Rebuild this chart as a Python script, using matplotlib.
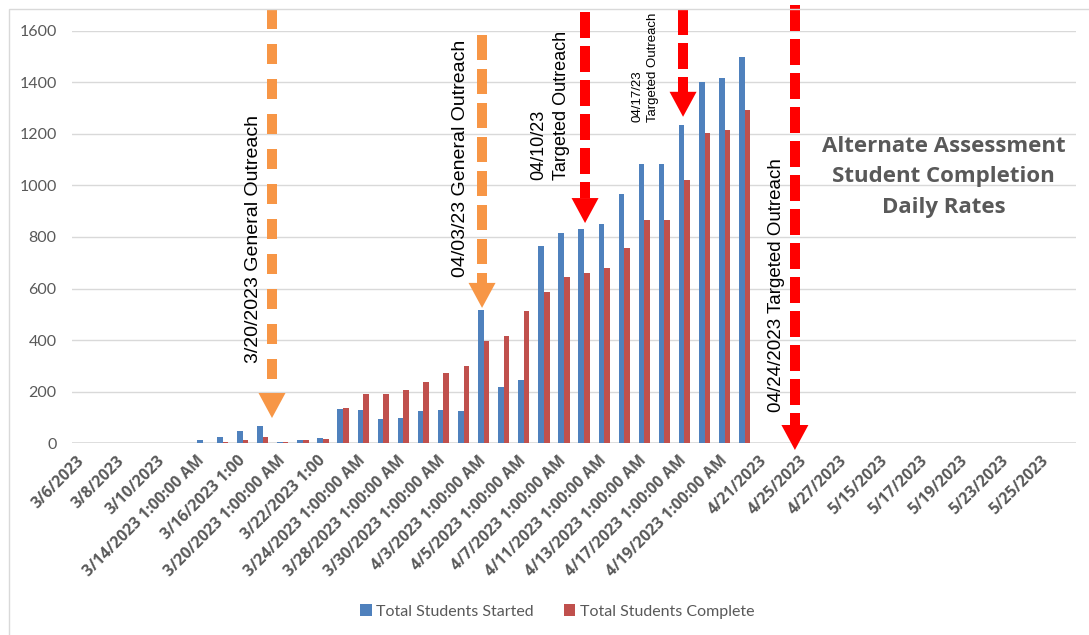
import numpy as np
import matplotlib
matplotlib.use('Agg')
import matplotlib.pyplot as plt
from matplotlib.patches import Polygon, Rectangle

# ---- data ----
categories = [
    '3/6/2023', '3/7/2023', '3/8/2023', '3/9/2023', '3/10/2023',
    '3/13/2023 1:00:00 AM', '3/14/2023 1:00:00 AM', '3/15/2023 1:00:00 AM',
    '3/16/2023 1:00', '3/17/2023 1:00', '3/20/2023 1:00:00 AM',
    '3/21/2023 1:00:00 AM', '3/22/2023 1:00', '3/23/2023 1:00',
    '3/24/2023 1:00:00 AM', '3/27/2023 1:00:00 AM', '3/28/2023 1:00:00 AM',
    '3/29/2023 1:00:00 AM', '3/30/2023 1:00:00 AM', '3/31/2023 1:00:00 AM',
    '4/3/2023 1:00:00 AM', '4/4/2023 1:00:00 AM', '4/5/2023 1:00:00 AM',
    '4/6/2023 1:00:00 AM', '4/7/2023 1:00:00 AM', '4/10/2023 1:00:00 AM',
    '4/11/2023 1:00:00 AM', '4/12/2023 1:00:00 AM', '4/13/2023 1:00:00 AM',
    '4/14/2023 1:00:00 AM', '4/17/2023 1:00:00 AM', '4/18/2023 1:00:00 AM',
    '4/19/2023 1:00:00 AM', '4/20/2023 1:00:00 AM', '4/21/2023',
    '4/24/2023', '4/25/2023', '4/26/2023', '4/27/2023', '4/28/2023',
    '5/15/2023', '5/16/2023', '5/17/2023', '5/18/2023', '5/19/2023',
    '5/22/2023', '5/23/2023', '5/24/2023', '5/25/2023', '5/26/2023',
]

started = [0, 0, 0, 0, 0, 0,
           13, 25, 46, 67, 5, 13, 20, 134, 128, 94, 98, 124, 128, 124,
           516, 219, 245, 765, 815, 830, 852, 967, 1084, 1084, 1233, 1402,
           1415, 1497,
           0, 0, 0, 0, 0, 0, 0, 0, 0, 0, 0, 0, 0, 0, 0, 0]

complete = [0, 0, 0, 0, 0, 0,
            0, 5, 13, 25, 5, 13, 17, 138, 192, 192, 206, 237, 274, 299,
            396, 415, 512, 587, 645, 662, 680, 756, 865, 865, 1022, 1204,
            1216, 1294,
            0, 0, 0, 0, 0, 0, 0, 0, 0, 0, 0, 0, 0, 0, 0, 0]

outreach_dates = ['3/20/2023', '04/03/23', '04/10/23', '04/17/23', '04/24/2023']

BLUE = '#4F81BD'
RED = '#C0504D'
ORANGE = '#F79646'
ARROW_RED = '#FF0000'
GREY = '#595959'
GRID = '#D9D9D9'

fig = plt.figure(figsize=(10.89, 6.35), dpi=100)
ax = fig.add_axes([0.0661, 0.3019, 0.922, 0.6498])

x = np.arange(len(categories))
w = 0.28
ax.bar(x - w / 2, started, w, color=BLUE, label='Total Students Started', zorder=2)
ax.bar(x + w / 2, complete, w, color=RED, label='Total Students Complete', zorder=2)

ax.set_xlim(-0.5, len(categories) - 0.5)
ax.set_ylim(0, 1600)
ax.set_yticks(range(0, 1601, 200))
ax.yaxis.grid(True, color=GRID, linewidth=1.0, zorder=0)
ax.set_axisbelow(True)
for s in ax.spines.values():
    s.set_visible(False)
ax.axhline(0, color=GRID, linewidth=1.2, zorder=1)

# every second category gets a label, like the Excel axis
ax.set_xticks(x[::2])
ax.set_xticklabels(categories[::2], rotation=45, ha='right', va='center',
                   rotation_mode='anchor', fontsize=11.3, fontweight='bold',
                   color=GREY, family='Open Sans')
ax.tick_params(axis='x', length=0, pad=11)
ax.tick_params(axis='y', length=0, pad=11, labelsize=11.5, labelcolor=GREY)
for lab in ax.get_yticklabels():
    lab.set_family('Lato')


def shift(xd, yd, dx, dy):
    d = ax.transData.transform((xd, yd))
    return ax.transData.inverted().transform((d[0] + dx, d[1] + dy))


def dashed_arrow(xc, y_tip, y_top, color, dashes, shaft=10, head_w=27, head_l=25):
    base = shift(xc, y_tip, 0, head_l)
    ax.plot([xc, xc], [y_top, base[1]], color=color, lw=shaft * 0.72,
            linestyle=(0, dashes), dash_capstyle='butt', clip_on=False, zorder=5)
    left = shift(xc, y_tip, -head_w / 2, head_l)
    right = shift(xc, y_tip, head_w / 2, head_l)
    ax.add_patch(Polygon([left, right, (xc, y_tip)], closed=True, color=color,
                         clip_on=False, zorder=5, lw=0))


dashed_arrow(9.46, 98, 1684, ORANGE, (2.0, 1.5))
dashed_arrow(19.92, 525, 1583, ORANGE, (2.5, 0.9))
dashed_arrow(25.05, 854, 1672, ARROW_RED, (2.6, 0.8))
dashed_arrow(29.93, 1266, 1684, ARROW_RED, (2.6, 0.8))
dashed_arrow(35.5, -26, 1700, ARROW_RED, (2.6, 0.8))

txt = dict(rotation=90, ha='center', va='bottom', family='Liberation Sans',
           color='black', zorder=6)
ax.text(8.56, 311, outreach_dates[0] + ' General Outreach', fontsize=14, **txt)
ax.text(18.87, 645, outreach_dates[1] + ' General Outreach', fontsize=14, **txt)
ax.text(23.3, 1021, outreach_dates[2] + '\nTargeted Outreach', fontsize=13,
        multialignment='left', linespacing=1.45, **txt)
ax.text(28.04, 1246, outreach_dates[3] + '\nTargeted Outreach', fontsize=9.5,
        multialignment='left', linespacing=1.35, **txt)
ax.text(34.56, 121, outreach_dates[4] + ' Targeted Outreach', fontsize=13.5, **txt)

ax.text(42.9, 1033, 'Alternate Assessment\nStudent Completion\nDaily Rates',
        ha='center', va='center', fontsize=16, fontweight='bold', color=GREY,
        family='Open Sans', linespacing=1.6, zorder=6)

leg = fig.legend(loc='center', bbox_to_anchor=(0.512, 0.037), ncol=2, frameon=False,
                 handlelength=0.7, handleheight=0.7, handletextpad=0.3,
                 columnspacing=1.9, prop={'family': 'Lato', 'size': 11.5})
for t in leg.get_texts():
    t.set_color(GREY)

# light chart-area frame
fig.patches.append(Rectangle((9 / 1089, -0.1), 1.2, 1.1 - 9 / 635,
                             transform=fig.transFigure, fill=False,
                             edgecolor=GRID, linewidth=1.0))

fig.savefig('out.png', dpi=100)
